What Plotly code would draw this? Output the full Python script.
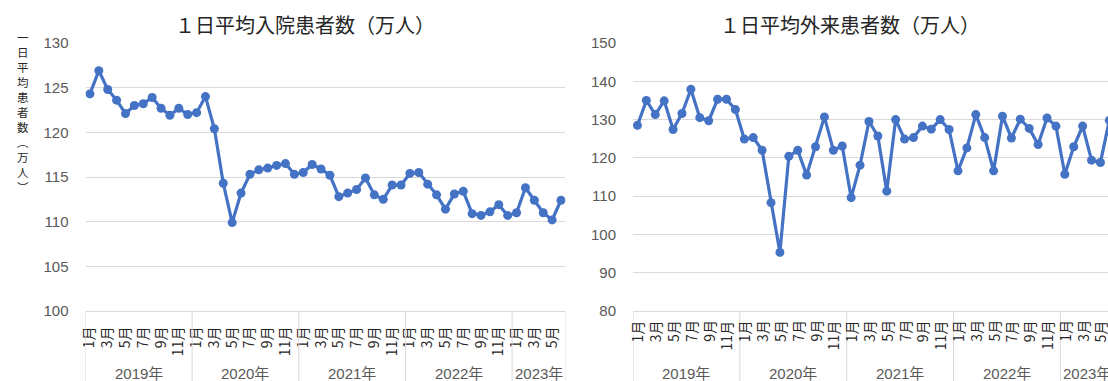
import plotly.graph_objects as go

# Monthly series, Jan 2019 - Jun 2023
years = ["2019年", "2020年", "2021年", "2022年", "2023年"]
months_per_year = [12, 12, 12, 12, 6]

inpatient = [
    124.3, 126.9, 124.8, 123.6, 122.1, 123.0, 123.2, 123.9, 122.7, 121.9, 122.7, 122.0,
    122.2, 124.0, 120.4, 114.3, 109.9, 113.2, 115.3, 115.8, 116.0, 116.3, 116.5, 115.3,
    115.5, 116.4, 115.9, 115.2, 112.8, 113.2, 113.6, 114.9, 113.0, 112.5, 114.1, 114.1,
    115.4, 115.5, 114.2, 113.0, 111.4, 113.1, 113.4, 110.9, 110.7, 111.1, 111.9, 110.7,
    111.0, 113.8, 112.4, 111.0, 110.2, 112.4,
]

outpatient = [
    128.5, 135.0, 131.3, 134.9, 127.4, 131.6, 137.9, 130.5, 129.7, 135.3, 135.3, 132.6,
    124.9, 125.3, 122.0, 108.3, 95.3, 120.4, 122.0, 115.5, 122.9, 130.7, 122.0, 123.1,
    109.6, 118.1, 129.5, 125.7, 111.3, 130.0, 124.9, 125.3, 128.3, 127.5, 130.0, 127.4,
    116.6, 122.6, 131.3, 125.3, 116.6, 130.9, 125.2, 130.1, 127.7, 123.5, 130.4, 128.3,
    115.7, 122.9, 128.3, 119.4, 118.8, 129.8,
]

left_title = "１日平均入院患者数（万人）"
right_title = "１日平均外来患者数（万人）"
y_title = "一日平均患者数︵万人︶"

# category index and month number for each point
month_nums = [m for n in months_per_year for m in range(1, n + 1)]
idx = list(range(len(month_nums)))
tick_vals = [i for i, m in zip(idx, month_nums) if m % 2 == 1]
tick_text = [f"{month_nums[i]}月" for i in tick_vals]

BLUE = "#4472C4"
GRID = "#D9D9D9"
TXT = "#595959"
FONT = "Liberation Sans, Noto Sans CJK JP"
CJK = "Noto Sans CJK JP"
MONTH_FONT = dict(family=CJK, size=14, color="#262626")

W, H = 1108, 381
M_T, M_B = 43, 70
PLOT_H = H - M_T - M_B


def py(px):
    """pixel row -> paper y"""
    return (H - M_B - px) / PLOT_H


fig = go.Figure()
for xa, ya, vals in (("x", "y", inpatient), ("x2", "y2", outpatient)):
    fig.add_trace(go.Scatter(
        x=idx, y=vals, xaxis=xa, yaxis=ya, mode="lines+markers",
        line=dict(color=BLUE, width=3.2),
        marker=dict(color=BLUE, size=9),
        showlegend=False, hoverinfo="skip",
    ))

xcommon = dict(
    tickmode="array", tickvals=tick_vals, ticktext=tick_text, tickangle=-90,
    tickfont=MONTH_FONT,
    showgrid=False, zeroline=False, showline=True, linecolor=GRID, linewidth=1,
    ticks="", ticklabelstandoff=9, ticklabeloverflow="allow", fixedrange=True,
)
ycommon = dict(
    showgrid=True, gridcolor=GRID, gridwidth=1, zeroline=False, showline=False,
    tickfont=dict(family=FONT, size=15, color=TXT), ticks="",
    ticklabelstandoff=16, fixedrange=True,
)

fig.update_layout(
    width=W, height=H,
    margin=dict(l=0, r=0, t=M_T, b=M_B),
    paper_bgcolor="white", plot_bgcolor="white",
    font=dict(family=FONT),
    xaxis=dict(domain=[79 / W, 562 / W], range=[-0.5, 53.5], anchor="y", **xcommon),
    yaxis=dict(domain=[0, 1], range=[100, 130], dtick=5, anchor="x", **ycommon),
    # right panel runs past the page edge, so its month labels are placed as annotations
    xaxis2=dict(domain=[630 / W, 1.0], range=[-0.5, 52.85], anchor="y2",
                **{**xcommon, "showticklabels": False}),
    yaxis2=dict(domain=[0, 1], range=[80, 150], dtick=10, anchor="x2", **ycommon),
)

# year groups: separators and labels below the month labels
bounds = [-0.5]
for n in months_per_year:
    bounds.append(bounds[-1] + n)

shapes = []
annotations = []
for xr in ("x", "x2"):
    for b in bounds:
        shapes.append(dict(type="line", xref=xr, yref="paper", x0=b, x1=b,
                           y0=0, y1=py(H + 2), line=dict(color=GRID, width=1)))
    for yr, b0, b1 in zip(years, bounds[:-1], bounds[1:]):
        annotations.append(dict(xref=xr, yref="paper", x=(b0 + b1) / 2, y=py(373),
                                text=yr, showarrow=False, xanchor="center", yanchor="middle",
                                font=dict(family=FONT, size=15, color=TXT)))

for tv, tt in zip(tick_vals, tick_text):
    annotations.append(dict(xref="x2", yref="paper", x=tv, y=py(319), text=tt,
                            textangle=-90, showarrow=False, xanchor="center", yanchor="top",
                            borderpad=0, font=MONTH_FONT))

annotations.append(dict(xref="paper", yref="paper", x=300 / W, y=py(25), text=left_title,
                        showarrow=False, xanchor="center", yanchor="middle",
                        font=dict(family=CJK, size=20, color="#262626")))
annotations.append(dict(xref="paper", yref="paper", x=848 / W, y=py(25), text=right_title,
                        showarrow=False, xanchor="center", yanchor="middle",
                        font=dict(family=CJK, size=20, color="#262626")))

# vertical axis caption, one upright character per line
annotations.append(dict(xref="paper", yref="paper", x=16 / W, y=py(112),
                        text="<br>".join(y_title), showarrow=False,
                        xanchor="center", yanchor="middle",
                        font=dict(family=CJK, size=11.5, color="#262626")))

fig.update_layout(shapes=shapes, annotations=annotations)

fig.write_html("out.html")
